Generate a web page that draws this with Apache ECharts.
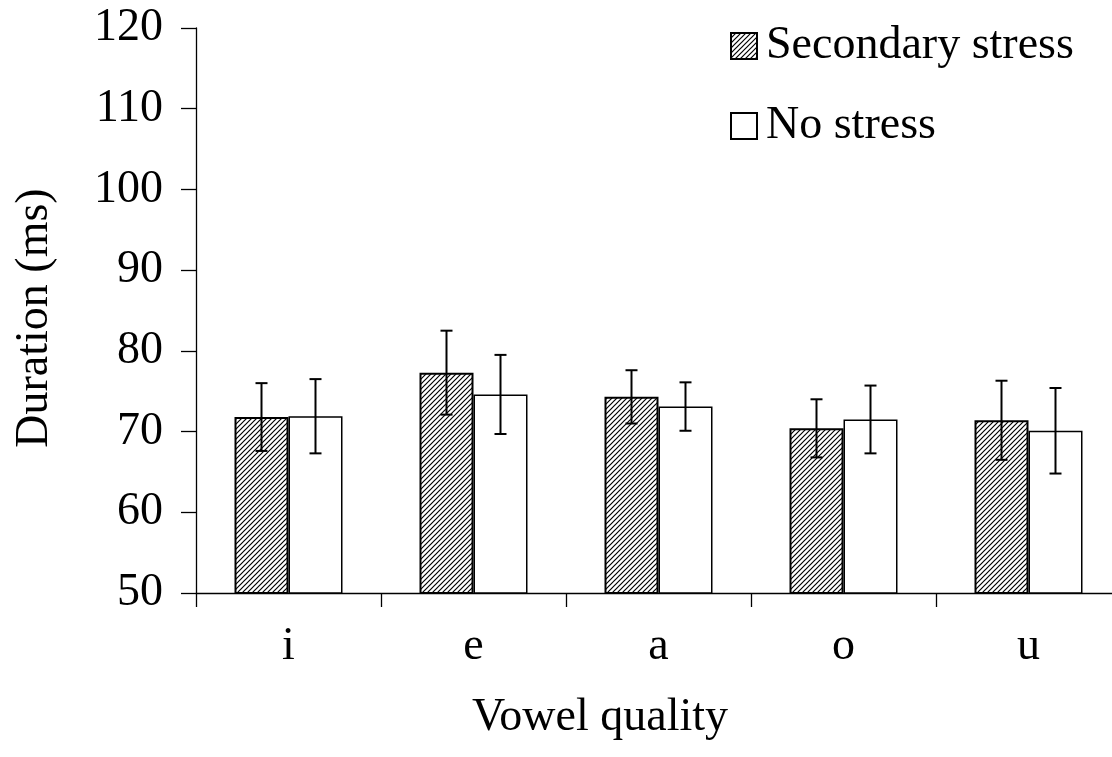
<!DOCTYPE html>
<html>
<head>
<meta charset="utf-8">
<script src="https://cdn.jsdelivr.net/npm/echarts@6/dist/echarts.min.js"></script>
<style>
html,body{margin:0;padding:0;background:#fff;overflow:hidden;}
#chart{width:1130px;height:757px;}
</style>
</head>
<body>
<div id="chart"></div>
<script>
// ---- data ----
var categories = ['i', 'e', 'a', 'o', 'u'];
var seriesNames = ['Secondary stress', 'No stress'];
var secondaryMeans = [71.8, 77.3, 74.3, 70.4, 71.4];
var secondaryErr   = [4.2, 5.2, 3.3, 3.6, 4.9];
var noStressMeans  = [71.9, 74.6, 73.1, 71.5, 70.1];
var noStressErr    = [4.6, 4.9, 3.0, 4.2, 5.3];
var yTicks = [50, 60, 70, 80, 90, 100, 110, 120];

// ---- hatch pattern ----
function makeHatch() {
  var s = 5;
  var c = document.createElement('canvas');
  c.width = s; c.height = s;
  var ctx = c.getContext('2d');
  ctx.fillStyle = '#fff';
  ctx.fillRect(0, 0, s, s);
  ctx.strokeStyle = '#000';
  ctx.lineWidth = 1.2;
  ctx.beginPath();
  ctx.moveTo(-1, s + 1); ctx.lineTo(s + 1, -1);
  ctx.moveTo(-1, 1); ctx.lineTo(1, -1);
  ctx.moveTo(s - 1, s + 1); ctx.lineTo(s + 1, s - 1);
  ctx.stroke();
  return c;
}
var hatch = { image: makeHatch(), repeat: 'repeat' };

var FONT = '"Liberation Serif", "Times New Roman", serif';
var BARW = 54;

var errData = [];
categories.forEach(function (c, i) {
  errData.push([i, secondaryMeans[i] - secondaryErr[i], secondaryMeans[i] + secondaryErr[i], 0]);
  errData.push([i, noStressMeans[i] - noStressErr[i], noStressMeans[i] + noStressErr[i], 1]);
});

var chart = echarts.init(document.getElementById('chart'), null, { renderer: 'canvas' });
chart.setOption({
  animation: false,
  backgroundColor: '#fff',
  grid: { left: 196, top: 28, width: 925, height: 565, containLabel: false },
  legend: {
    orient: 'vertical',
    left: 725, top: 17,
    itemWidth: 26, itemHeight: 26,
    itemGap: 32,
    data: seriesNames,
    textStyle: { fontFamily: FONT, fontSize: 46, color: '#000', lineHeight: 48, padding: [0, 0, 0, 4] },
    icon: 'rect'
  },
  xAxis: {
    type: 'category',
    data: categories,
    axisLine: { lineStyle: { color: '#000', width: 1.3 } },
    axisTick: { show: true, length: 14, lineStyle: { color: '#000', width: 1.3 } },
    axisLabel: { fontFamily: FONT, fontSize: 46, color: '#000', margin: 31 },
    splitLine: { show: false }
  },
  yAxis: {
    type: 'value',
    min: yTicks[0], max: yTicks[yTicks.length - 1], interval: 10,
    axisLine: { show: true, lineStyle: { color: '#000', width: 1.3 } },
    axisTick: { show: true, length: 15, lineStyle: { color: '#000', width: 1.3 } },
    axisLabel: { fontFamily: FONT, fontSize: 46, color: '#000', margin: 33 },
    splitLine: { show: false }
  },
  graphic: [
    { type: 'text', x: 600, y: 718, style: { text: 'Vowel quality', font: '46px ' + FONT, fill: '#000', textAlign: 'center', textVerticalAlign: 'middle' } },
    { type: 'text', x: 35, y: 318, rotation: Math.PI / 2, style: { text: 'Duration (ms)', font: '46px ' + FONT, fill: '#000', textAlign: 'center', textVerticalAlign: 'middle' } }
  ],
  series: [
    {
      name: seriesNames[0], type: 'bar', data: secondaryMeans,
      barWidth: BARW, barGap: '0%',
      itemStyle: { color: hatch, borderColor: '#000', borderWidth: 2 }
    },
    {
      name: seriesNames[1], type: 'bar', data: noStressMeans,
      barWidth: BARW, barGap: '0%',
      itemStyle: { color: '#fff', borderColor: '#000', borderWidth: 1.5 }
    },
    {
      type: 'custom',
      data: errData,
      z: 10,
      renderItem: function (params, api) {
        var ci = api.value(0), lo = api.value(1), hi = api.value(2), si = api.value(3);
        var pLo = api.coord([ci, lo]);
        var pHi = api.coord([ci, hi]);
        var x = pLo[0] + (si === 0 ? -BARW / 2 : BARW / 2);
        var cap = 6;
        var st = { stroke: '#000', lineWidth: 2 };
        return {
          type: 'group',
          children: [
            { type: 'line', shape: { x1: x, y1: pLo[1], x2: x, y2: pHi[1] }, style: st },
            { type: 'line', shape: { x1: x - cap, y1: pLo[1], x2: x + cap, y2: pLo[1] }, style: st },
            { type: 'line', shape: { x1: x - cap, y1: pHi[1], x2: x + cap, y2: pHi[1] }, style: st }
          ]
        };
      }
    }
  ]
});
</script>
</body>
</html>
